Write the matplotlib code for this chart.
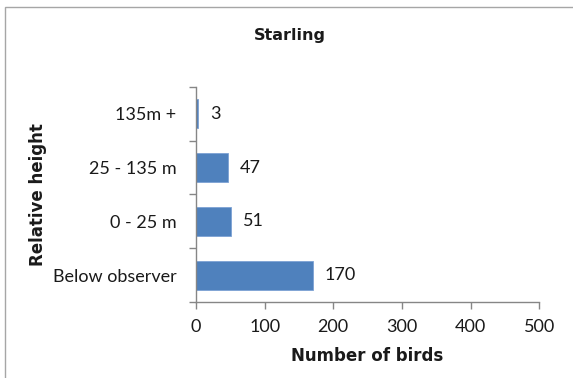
"""Horizontal bar chart of starling counts by relative flight height."""

import matplotlib.pyplot as plt
from matplotlib.patches import Rectangle
import numpy as np

BAR = "#4f81bd"
AXIS = "#868686"
INK = "#1a1a1a"

heights = ["Below observer", "0 - 25 m", "25 - 135 m", "135m +"]
birds = [170, 51, 47, 3]
x_ticks = [0, 100, 200, 300, 400, 500]

fig = plt.figure(figsize=(5.73, 3.78), dpi=100, facecolor="white")
ax = fig.add_axes([0.342, 0.201, 0.599, 0.569])

y = np.arange(len(heights))
ax.barh(y, birds, height=0.54, color=BAR, edgecolor="#7da2d4", linewidth=0.6)
for pos, value in zip(y, birds):
    ax.annotate(f"{value}", (value, pos), xytext=(8.5, 0), textcoords="offset points",
                va="center", ha="left", fontsize=13, family="Lato", color=INK)

ax.set_xlim(0, 500)
ax.set_ylim(-0.5, len(heights) - 0.5)
ax.set_xticks(x_ticks)
ax.set_yticks(y, labels=heights)
ax.set_yticks(np.arange(len(heights) + 1) - 0.5, minor=True)
ax.tick_params(axis="y", which="major", length=0, pad=14, labelsize=13, labelcolor=INK)
ax.tick_params(axis="y", which="minor", length=5, color=AXIS, width=1)
ax.tick_params(axis="x", length=5, color=AXIS, width=1, pad=7, labelsize=13, labelcolor=INK)
for label in ax.get_xticklabels() + ax.get_yticklabels():
    label.set_family("Lato")
for side in ("top", "right"):
    ax.spines[side].set_visible(False)
for side in ("left", "bottom"):
    ax.spines[side].set_color(AXIS)
    ax.spines[side].set_linewidth(1)

ax.set_xlabel("Number of birds", fontsize=12, fontweight="bold", color=INK, labelpad=9)
ax.set_ylabel("Relative height", fontsize=12, fontweight="bold", color=INK, labelpad=4)
fig.text(0.506, 0.905, "Starling", ha="center", va="center",
         fontsize=11.5, fontweight="bold", color=INK)

# chart-area frame running off the right and bottom edges
fig.patches.append(Rectangle((5 / 573, -0.05), 1.1, 1 - 7 / 378 + 0.05,
                             transform=fig.transFigure, fill=False,
                             edgecolor="#a6a6a6", linewidth=1))

fig.savefig("out.png", dpi=100, facecolor="white")
